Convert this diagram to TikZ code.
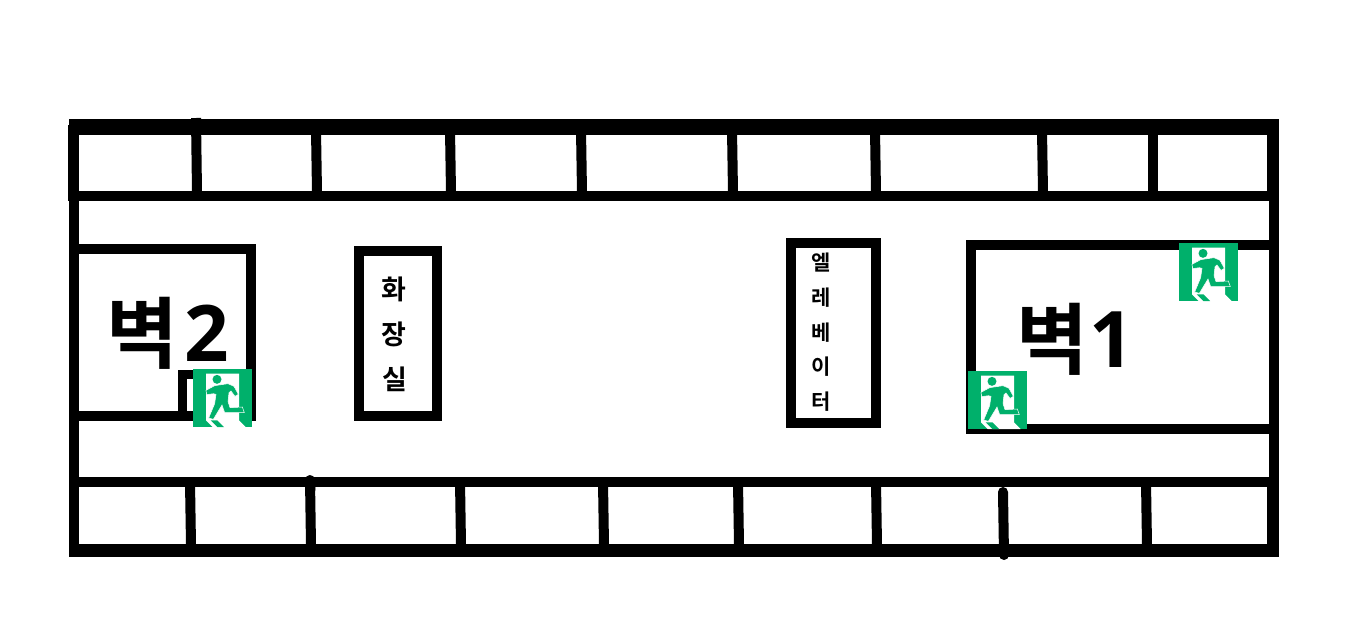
\documentclass[tikz,border=0pt]{standalone}
\usepackage{fontspec}
\setmainfont{Noto Sans CJK KR}[BoldFont={* Bold}]
\newfontfamily\digitfont{Open Sans}
\definecolor{exitgreen}{HTML}{00B06B}
\tikzset{
  x=1pt,y=-1pt,
  wall/.style={fill=black,draw=none},
  divider/.style={draw=black,line width=10pt},
  rounddiv/.style={draw=black,line width=10pt,line cap=round},
  room/.style={draw=black,line width=10pt,miter limit=10},
  bigtext/.style={font=\fontsize{78}{78}\selectfont\bfseries,inner sep=0pt,text=black},
  midtext/.style={font=\fontsize{27}{27}\selectfont\bfseries,inner sep=0pt,text=black},
  smalltext/.style={font=\fontsize{21}{21}\selectfont\bfseries,inner sep=0pt,text=black},
  exitsign/.pic={
    \fill[exitgreen] (0,0) rectangle (59,58);
    \begin{scope}[shift={(-9,-8)},scale=1/3]
      \fill[white] (66,38) -- (165,38) -- (165,178) -- (185,198) -- (86,198) -- (66,178) -- cycle;
      \fill[exitgreen] (99,55) circle (13.5);
      \filldraw[fill=exitgreen,draw=white,line width=.5pt]
        (66,88) -- (92,74) -- (132,68) -- (150,76) -- (163,100) -- (153,106) -- (141,90) -- (135,95)
        -- (132,122) -- (138,140) -- (175,138) -- (181,155) -- (122,155) -- (114,132) -- (88,175)
        -- (74,171) -- (92,128) -- (96,100) -- (88,98) -- (68,101) -- cycle;
      \fill[exitgreen] (80,178) -- (100,178) -- (120,198) -- (100,198) -- cycle;
    \end{scope}
  }
}
\begin{document}
\begin{tikzpicture}
\useasboundingbox[fill=white] (0,0) rectangle (1350,619);

% rooms
\draw[room] (74,249) -- (251,249) -- (251,416) -- (74,416);
\draw[draw=black,line width=9pt] (197,374.5) -- (182.5,374.5) -- (182.5,421);
\draw[room] (359,251) rectangle (437,416);
\draw[room] (791,243) rectangle (876,423);
\draw[room] (1274,245) -- (971,245) -- (971,429) -- (1274,429);

% outer walls and corridor lines
\fill[wall] (69,119) rectangle (1279,135);
\fill[wall] (68,125) rectangle (79,201);
\fill[wall] (69,191) rectangle (1279,201);
\fill[wall] (1267,125) rectangle (1279,201);
\fill[wall] (69,201) rectangle (79,557);
\fill[wall] (1269,201) rectangle (1279,477);
\fill[wall] (69,477) rectangle (1279,487);
\fill[wall] (1267,477) rectangle (1279,557);
\fill[wall] (69,544) rectangle (1279,557);

% top row dividers
\coordinate (t1a) at (196,118); \coordinate (t1b) at (197,192);
\coordinate (t2a) at (316,130); \coordinate (t2b) at (317,192);
\coordinate (t3a) at (450,130); \coordinate (t3b) at (451,192);
\coordinate (t4a) at (581,130); \coordinate (t4b) at (582,192);
\coordinate (t5a) at (732,130); \coordinate (t5b) at (733,192);
\coordinate (t6a) at (875,130); \coordinate (t6b) at (876,192);
\coordinate (t7a) at (1042,130); \coordinate (t7b) at (1043,192);
\coordinate (t8a) at (1153,130); \coordinate (t8b) at (1153,192);
\foreach \i in {1,...,8} \draw[divider] (t\i a) -- (t\i b);

% bottom row dividers
\coordinate (b1a) at (190,482); \coordinate (b1b) at (191,545);
\coordinate (b2a) at (310,480); \coordinate (b2b) at (311,545);
\coordinate (b3a) at (460,481); \coordinate (b3b) at (461,545);
\coordinate (b4a) at (603,482); \coordinate (b4b) at (604,545);
\coordinate (b5a) at (738,482); \coordinate (b5b) at (739,545);
\coordinate (b6a) at (876,482); \coordinate (b6b) at (877,545);
\coordinate (b8a) at (1146,482); \coordinate (b8b) at (1147,545);
\foreach \i in {1,2,3,4,5,6,8} \draw[divider] (b\i a) -- (b\i b);
\draw[rounddiv] (310,480) -- (310.5,490);
\draw[rounddiv] (1003,492) -- (1004,555);

% labels
\node[bigtext] (wall2) at (168,333) {벽\kern6pt\raisebox{1pt}{\digitfont 2}};
\node[bigtext] (wall1) at (1075,339) {벽\kern1pt\raisebox{1pt}{\digitfont 1}};
\node[midtext] (hwa) at (394,289) {화};
\node[midtext] (jang) at (394,334) {장};
\node[midtext] (sil) at (395,379) {실};
\node[smalltext] (el) at (821,263) {엘};
\node[smalltext] (re) at (821,298) {레};
\node[smalltext] (be) at (821,333) {베};
\node[smalltext] (i) at (821,367) {이};
\node[smalltext] (teo) at (821,402) {터};

% exit signs
\pic at (193,369) {exitsign};
\pic at (1179,243) {exitsign};
\pic at (968,371) {exitsign};
\end{tikzpicture}
\end{document}
